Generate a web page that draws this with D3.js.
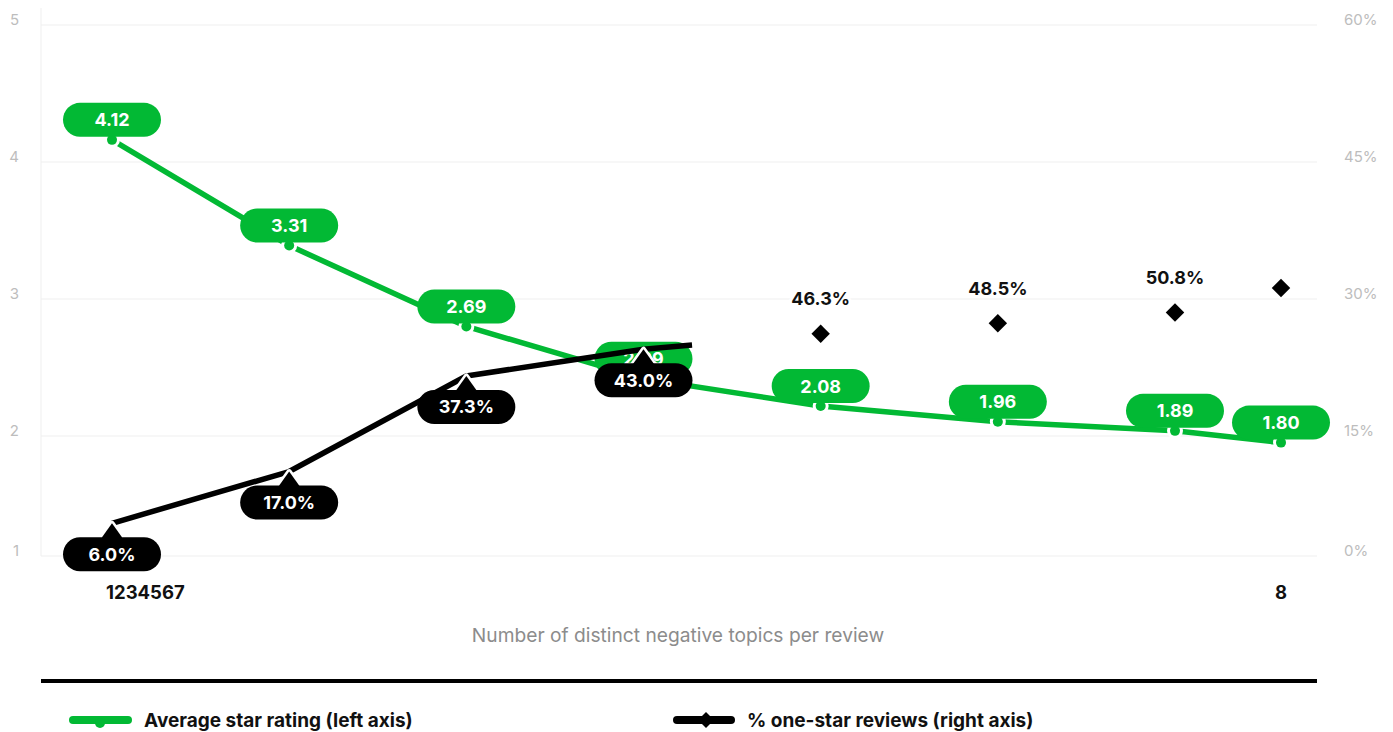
<!DOCTYPE html>
<html>
<head>
<meta charset="utf-8">
<script src="https://cdn.jsdelivr.net/npm/d3@7/dist/d3.min.js"></script>
<style>
  html, body { margin: 0; padding: 0; background: #fff; }
  svg { display: block; font-family: Inter, "Noto Sans", sans-serif; }
</style>
</head>
<body>
<svg id="chart" width="1393" height="732"></svg>
<script>
// Number of distinct negative topics per review
const topics = [1, 2, 3, 4, 5, 6, 7, 8];
// Average star rating (left axis)
const avgRating = [4.12, 3.31, 2.69, 2.29, 2.08, 1.96, 1.89, 1.80];
// % one-star reviews (right axis)
const oneStarPct = [6.0, 17.0, 37.3, 43.0, 46.3, 48.5, 50.8, 56.0];
// which points of the one-star series carry a value label
const pctLabelled = [true, true, true, true, true, true, true, false];
const leftTicks = [1, 2, 3, 4, 5];
const rightTicks = [0, 15, 30, 45, 60];

const GREEN = "#02b934";
const BLACK = "#000";
const GRID = "#efefef";
const TICK_GREY = "#bdbdbd";

const svg = d3.select("#chart");

const plotLeft = 41, plotRight = 1317, plotTop = 8, plotBottom = 556;

// x positions of the topic counts
const x = d3.scaleLinear().domain([1, 7, 8]).range([112, 1175, 1281]);

// axis scales (gridlines / tick labels)
const yLeftAxis = d3.scaleLinear().domain([1, 2, 5]).range([plotBottom, 436, 25]);
const yRightAxis = d3.scaleLinear().domain([0, 15, 60]).range([plotBottom, 436, 25]);

// data scales for the two series
const yRating = d3.scaleLinear().domain([1, 5]).range([547, 25]);
const yPct = d3.scaleLinear().domain([0, 100]).range([551.5, 81]);

const rows = topics.map((t, i) => ({
  t, rating: avgRating[i], pct: oneStarPct[i], labelled: pctLabelled[i], i
}));

// ---- grid + axes ----
const grid = svg.append("g");
grid.selectAll("line.h")
  .data(leftTicks)
  .join("line")
  .attr("x1", plotLeft).attr("x2", plotRight)
  .attr("y1", d => yLeftAxis(d)).attr("y2", d => yLeftAxis(d))
  .attr("stroke", GRID).attr("stroke-width", 1);
grid.append("line")
  .attr("x1", plotLeft).attr("x2", plotLeft)
  .attr("y1", plotTop).attr("y2", plotBottom)
  .attr("stroke", GRID).attr("stroke-width", 1);

const leftAxis = d3.axisLeft(yLeftAxis).tickValues(leftTicks).tickSize(0).tickPadding(0)
  .tickFormat(d3.format("d"));
svg.append("g")
  .attr("transform", "translate(19,-5)")
  .call(leftAxis)
  .call(g => g.select(".domain").remove())
  .call(g => g.selectAll("text")
    .attr("fill", TICK_GREY).attr("font-size", 15)
    .attr("font-family", "Inter, sans-serif"));

const rightAxis = d3.axisRight(yRightAxis).tickValues(rightTicks).tickSize(0).tickPadding(0)
  .tickFormat(d => d + "%");
svg.append("g")
  .attr("transform", "translate(1344,-5)")
  .call(rightAxis)
  .call(g => g.select(".domain").remove())
  .call(g => g.selectAll("text")
    .attr("fill", TICK_GREY).attr("font-size", 15)
    .attr("font-family", "Inter, sans-serif"));

// x tick labels: 1-7 run together inline, 8 sits at its own position
const xLabels = svg.append("g").attr("font-weight", 700).attr("font-size", 18.5).attr("fill", "#111");
const runText = xLabels.append("text")
  .attr("x", x(topics[0]) - 6)
  .attr("y", 599);
runText.selectAll("tspan")
  .data(topics.slice(0, -1))
  .join("tspan")
  .text(d => d);
xLabels.append("text")
  .attr("x", x(topics[topics.length - 1]))
  .attr("y", 599)
  .attr("text-anchor", "middle")
  .text(topics[topics.length - 1]);

svg.append("text")
  .attr("x", 678).attr("y", 642)
  .attr("text-anchor", "middle")
  .attr("fill", "#8c8c8c")
  .attr("font-size", 19.2)
  .text("Number of distinct negative topics per review");

// ---- average rating series ----
const ratingLine = d3.line().x(d => x(d.t)).y(d => yRating(d.rating));
svg.append("path")
  .datum(rows)
  .attr("d", ratingLine)
  .attr("fill", "none")
  .attr("stroke", GREEN)
  .attr("stroke-width", 5.5)
  .attr("stroke-linejoin", "round");

svg.append("g").selectAll("circle")
  .data(rows)
  .join("circle")
  .attr("cx", d => x(d.t))
  .attr("cy", d => yRating(d.rating))
  .attr("r", 5)
  .attr("fill", GREEN)
  .attr("stroke", "#fff")
  .attr("stroke-width", 6)
  .attr("paint-order", "stroke");

const PILL_W = 98, PILL_H = 34;
const greenPills = svg.append("g").selectAll("g")
  .data(rows)
  .join("g")
  .attr("transform", d => `translate(${x(d.t)},${yRating(d.rating) - 20})`);
greenPills.append("rect")
  .attr("x", -PILL_W / 2).attr("y", -PILL_H / 2)
  .attr("width", PILL_W).attr("height", PILL_H)
  .attr("rx", PILL_H / 2)
  .attr("fill", GREEN);
greenPills.append("text")
  .attr("text-anchor", "middle")
  .attr("dy", "0.36em")
  .attr("fill", "#fff")
  .attr("font-weight", 700)
  .attr("font-size", 18)
  .text(d => d.rating.toFixed(2));

// ---- one-star share series ----
const pctLine = d3.line().x(d => x(d.t)).y(d => yPct(d.pct));
const pctPath = svg.append("path")
  .datum(rows)
  .attr("d", pctLine)
  .attr("fill", "none")
  .attr("stroke", BLACK)
  .attr("stroke-width", 5.5)
  .attr("stroke-linejoin", "round");

// line is revealed up to a little past the fourth point
const headPath = svg.append("path").attr("d", pctLine(rows.slice(0, 4))).attr("fill", "none");
const headLen = headPath.node().getTotalLength();
headPath.remove();
const p4 = rows[3], p5 = rows[4];
const segLen = Math.hypot(x(p5.t) - x(p4.t), yPct(p5.pct) - yPct(p4.pct));
const shownLen = headLen + 0.274 * segLen;
pctPath.attr("stroke-dasharray", `${shownLen} ${pctPath.node().getTotalLength() + 10}`);

const pillRows = rows.filter(d => d.i < 4);
const blackPills = svg.append("g").selectAll("g")
  .data(pillRows)
  .join("g")
  .attr("transform", d => `translate(${x(d.t)},${yPct(d.pct)})`);
blackPills.append("path")
  .attr("d", "M0,0 L-10,14 L-10,30 L10,30 L10,14 Z")
  .attr("fill", BLACK)
  .attr("stroke", "#fff")
  .attr("stroke-width", 5)
  .attr("stroke-linejoin", "round")
  .attr("paint-order", "stroke");
blackPills.append("rect")
  .attr("x", -PILL_W / 2).attr("y", 31 - PILL_H / 2)
  .attr("width", PILL_W).attr("height", PILL_H)
  .attr("rx", PILL_H / 2)
  .attr("fill", BLACK);
blackPills.append("text")
  .attr("text-anchor", "middle")
  .attr("y", 31)
  .attr("dy", "0.36em")
  .attr("fill", "#fff")
  .attr("font-weight", 700)
  .attr("font-size", 18)
  .text(d => d.pct.toFixed(1) + "%");

const markerRows = rows.filter(d => d.i >= 4);
const diamond = d3.symbol(d3.symbolSquare, 170);
svg.append("g").selectAll("path")
  .data(markerRows)
  .join("path")
  .attr("d", diamond)
  .attr("transform", d => `translate(${x(d.t)},${yPct(d.pct)}) rotate(45)`)
  .attr("fill", BLACK)
  .attr("stroke", "#fff")
  .attr("stroke-width", 4)
  .attr("paint-order", "stroke");

svg.append("g").selectAll("text")
  .data(markerRows.filter(d => d.labelled))
  .join("text")
  .attr("x", d => x(d.t))
  .attr("y", d => yPct(d.pct) - 35)
  .attr("dy", "0.36em")
  .attr("text-anchor", "middle")
  .attr("font-weight", 700)
  .attr("font-size", 18)
  .attr("fill", "#111")
  .attr("stroke", "#fff")
  .attr("stroke-width", 6)
  .attr("paint-order", "stroke")
  .text(d => d.pct.toFixed(1) + "%");

// ---- legend ----
svg.append("line")
  .attr("x1", plotLeft).attr("x2", plotRight)
  .attr("y1", 681).attr("y2", 681)
  .attr("stroke", BLACK).attr("stroke-width", 4);

const legend = svg.append("g").attr("font-weight", 700).attr("font-size", 19).attr("fill", "#111");
const lg1 = legend.append("g").attr("transform", "translate(73,720)");
lg1.append("line").attr("x1", 0).attr("x2", 55).attr("y1", 0).attr("y2", 0)
  .attr("stroke", GREEN).attr("stroke-width", 8).attr("stroke-linecap", "round");
lg1.append("circle").attr("cx", 27).attr("cy", 3).attr("r", 5).attr("fill", GREEN);
lg1.append("text").attr("x", 71).attr("dy", "0.36em").text("Average star rating (left axis)");

const lg2 = legend.append("g").attr("transform", "translate(677,720)");
lg2.append("line").attr("x1", 0).attr("x2", 54).attr("y1", 0).attr("y2", 0)
  .attr("stroke", BLACK).attr("stroke-width", 8).attr("stroke-linecap", "round");
lg2.append("path").attr("d", d3.symbol(d3.symbolSquare, 130))
  .attr("transform", "translate(29,0) rotate(45)").attr("fill", BLACK);
lg2.append("text").attr("x", 70).attr("dy", "0.36em").text("% one-star reviews (right axis)");
</script>
</body>
</html>
